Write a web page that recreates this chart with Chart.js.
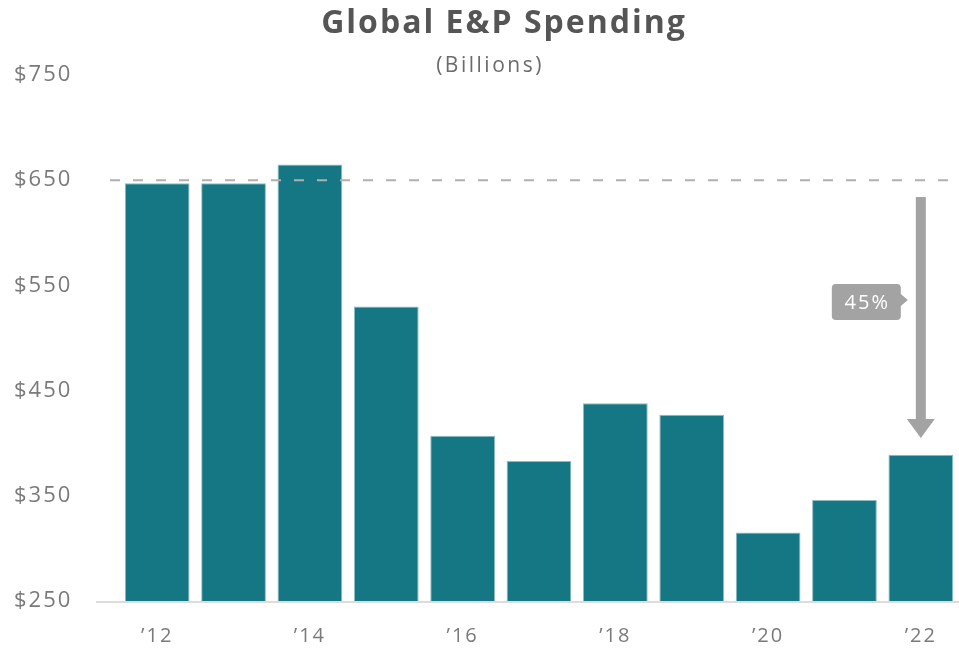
<!DOCTYPE html>
<html>
<head>
<meta charset="utf-8">
<script src="https://cdn.jsdelivr.net/npm/chart.js@4/dist/chart.umd.min.js"></script>
<style>
  html, body { margin: 0; padding: 0; background: #ffffff; }
  #wrap { width: 959px; height: 649px; position: relative; }
</style>
</head>
<body>
<div id="wrap"><canvas id="chart" width="959" height="649"></canvas></div>
<script>
// Global exploration & production spending, billions of US dollars
const years = ["’12", "’13", "’14", "’15", "’16", "’17", "’18", "’19", "’20", "’21", "’22"];
const spending = [647, 647, 665, 530, 407, 383, 438, 427, 315, 346, 389];
const yTicks = [250, 350, 450, 550, 650, 750];

// Reference level and the drop annotation
const referenceLevel = 650;
const arrowFrom = 634;
const arrowTo = 405;
const dropLabel = "45%";

const titleText = "Global E&P Spending";
const subtitleText = "(Billions)";

const FONT = "'Open Sans', 'Noto Sans', sans-serif";
const TEAL = "#167784";
const GREY = "#a3a3a3";

// wide, airy lettering for every label on the canvas
const spacing = {
  id: "spacing",
  beforeDraw(chart) { chart.ctx.letterSpacing = "2px"; }
};

const overlay = {
  id: "overlay",
  afterDraw(chart) {
    const { ctx, chartArea, scales } = chart;
    const x = scales.x, y = scales.y;
    ctx.save();

    // headline
    ctx.fillStyle = "#555555";
    ctx.textAlign = "center";
    ctx.textBaseline = "middle";
    ctx.letterSpacing = "2px";
    ctx.font = "bold 32px " + FONT;
    ctx.fillText(titleText, 504, 24);
    ctx.fillStyle = "#6b6b6b";
    ctx.letterSpacing = "2.5px";
    ctx.font = "21px " + FONT;
    ctx.fillText(subtitleText, 490, 66);

    // axis base line
    ctx.strokeStyle = "#dcdcdc";
    ctx.lineWidth = 2;
    ctx.beginPath();
    ctx.moveTo(96, chartArea.bottom + 1);
    ctx.lineTo(chartArea.right, chartArea.bottom + 1);
    ctx.stroke();

    // dashed reference level
    const yr = y.getPixelForValue(referenceLevel);
    ctx.strokeStyle = "#b0b0b0";
    ctx.lineWidth = 2;
    ctx.setLineDash([10, 13]);
    ctx.beginPath();
    ctx.moveTo(110, yr);
    ctx.lineTo(chartArea.right, yr);
    ctx.stroke();
    ctx.setLineDash([]);

    // downward arrow over the last year
    const ax = x.getPixelForValue(years.length - 1);
    const yTop = y.getPixelForValue(arrowFrom);
    const yTip = y.getPixelForValue(arrowTo);
    const headH = 19, headW = 28, shaftW = 10;
    ctx.fillStyle = GREY;
    ctx.fillRect(ax - shaftW / 2, yTop, shaftW, yTip - headH - yTop + 1);
    ctx.beginPath();
    ctx.moveTo(ax - headW / 2, yTip - headH);
    ctx.lineTo(ax + headW / 2, yTip - headH);
    ctx.lineTo(ax, yTip);
    ctx.closePath();
    ctx.fill();

    // percentage callout
    const bw = 69, bh = 36, r = 4;
    const bRight = ax - 20;
    const bLeft = bRight - bw;
    const bTop = 284, bMid = bTop + bh / 2 - 2;
    ctx.beginPath();
    ctx.moveTo(bLeft + r, bTop);
    ctx.lineTo(bRight - r, bTop);
    ctx.quadraticCurveTo(bRight, bTop, bRight, bTop + r);
    ctx.lineTo(bRight, bMid - 6);
    ctx.lineTo(bRight + 7, bMid);
    ctx.lineTo(bRight, bMid + 6);
    ctx.lineTo(bRight, bTop + bh - r);
    ctx.quadraticCurveTo(bRight, bTop + bh, bRight - r, bTop + bh);
    ctx.lineTo(bLeft + r, bTop + bh);
    ctx.quadraticCurveTo(bLeft, bTop + bh, bLeft, bTop + bh - r);
    ctx.lineTo(bLeft, bTop + r);
    ctx.quadraticCurveTo(bLeft, bTop, bLeft + r, bTop);
    ctx.closePath();
    ctx.fill();
    ctx.fillStyle = "#ffffff";
    ctx.letterSpacing = "2px";
    ctx.font = "20px " + FONT;
    ctx.textAlign = "center";
    ctx.textBaseline = "middle";
    ctx.fillText(dropLabel, (bLeft + bRight) / 2 + 1, bTop + bh / 2 + 1);

    ctx.restore();
  }
};

new Chart(document.getElementById("chart"), {
  type: "bar",
  data: {
    labels: years,
    datasets: [{
      data: spending,
      backgroundColor: TEAL,
      borderColor: "#8dbcc2",
      borderWidth: 1,
      barPercentage: 0.848,
      categoryPercentage: 1.0
    }]
  },
  options: {
    responsive: false,
    animation: false,
    layout: { padding: { left: 14, right: 0, top: 75, bottom: 0 } },
    plugins: {
      legend: { display: false },
      tooltip: { enabled: false },
      title: { display: false }
    },
    scales: {
      x: {
        grid: { display: false, drawTicks: false },
        border: { display: false },
        ticks: {
          color: "#7a7a7a",
          font: { family: FONT, size: 20 },
          padding: 23,
          autoSkip: false,
          maxRotation: 0,
          callback: (v, i) => (i % 2 === 0 ? years[i] : "")
        },
        afterFit(scale) { scale.height = 48; }
      },
      y: {
        min: yTicks[0],
        max: yTicks[yTicks.length - 1],
        grid: { display: false, drawTicks: false },
        border: { display: false },
        afterBuildTicks(scale) { scale.ticks = yTicks.map(v => ({ value: v })); },
        ticks: {
          color: "#7a7a7a",
          font: { family: FONT, size: 22 },
          crossAlign: "far",
          callback: v => "$" + v
        },
        afterFit(scale) { scale.width = 105; }
      }
    }
  },
  plugins: [spacing, overlay]
});
</script>
</body>
</html>
